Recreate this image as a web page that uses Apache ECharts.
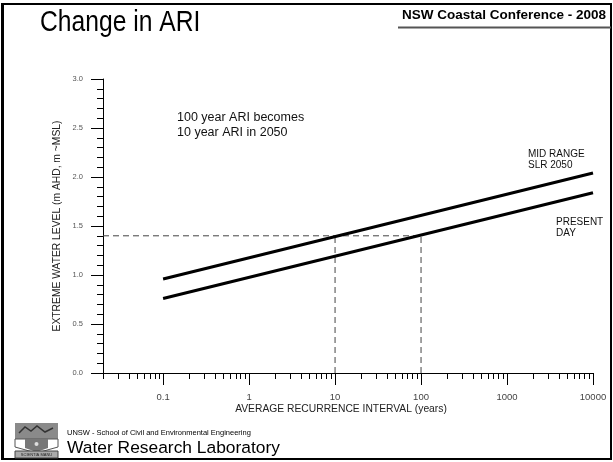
<!DOCTYPE html>
<html>
<head>
<meta charset="utf-8">
<script src="https://cdn.jsdelivr.net/npm/echarts@6/dist/echarts.min.js"></script>
<style>
  html, body { margin: 0; padding: 0; background: #fff; }
  #chart { width: 613px; height: 462px; }
</style>
</head>
<body>
<div id="chart"></div>
<script>
// Average recurrence interval (years) at the line end points
const ariPoints = [0.1, 10000];
// Extreme water level (m AHD) for each scenario at those intervals
const presentDay = [0.76, 1.84];
const midRange2050 = [0.96, 2.04];
// Reference level and the two intervals it links
const refLevel = 1.4;
const refAri = [10, 100];
// Axis ticks
const xMajorTicks = [0.1, 1, 10, 100, 1000, 10000];
const xTickLabels = ['0.1', '1', '10', '100', '1000', '10000'];
const xMinorTicks = [];
for (let d = 0.01; d < 10000; d *= 10) {
  for (let k = 2; k <= 9; k++) {
    const v = +(k * d).toPrecision(3);
    if (v >= 0.02 && xMajorTicks.indexOf(v) < 0) xMinorTicks.push(v);
  }
}

const font = '"Liberation Sans", Arial, Helvetica, sans-serif';

const chart = echarts.init(document.getElementById('chart'), null, { renderer: 'canvas' });

const pairs = (xs, ys) => xs.map((x, i) => [x, ys[i]]);

const option = {
  backgroundColor: '#ffffff',
  animation: false,
  grid: { left: 103, right: 20, top: 79, bottom: 89, containLabel: false },
  xAxis: [
    {
      type: 'log',
      min: 0.02,
      max: 10000,
      axisLine: { show: true, lineStyle: { color: '#000', width: 1 } },
      axisTick: { show: true, length: 12, customValues: xMajorTicks, lineStyle: { color: '#000', width: 1 } },
      axisLabel: {
        show: true,
        customValues: xMajorTicks,
        margin: 19,
        color: '#444',
        fontSize: 9.5,
        fontFamily: font,
        formatter: (v) => {
          const i = xMajorTicks.findIndex(t => Math.abs(t - v) / t < 1e-6);
          return i >= 0 ? xTickLabels[i] : '';
        }
      },
      splitLine: { show: false },
      minorTick: { show: false }
    },
    {
      type: 'log',
      min: 0.02,
      max: 10000,
      position: 'bottom',
      axisLine: { show: false },
      axisTick: { show: true, length: 6, customValues: xMinorTicks, lineStyle: { color: '#000', width: 1 } },
      axisLabel: { show: false },
      splitLine: { show: false }
    }
  ],
  yAxis: {
    type: 'value',
    min: 0,
    max: 3,
    interval: 0.5,
    axisLine: { show: true, lineStyle: { color: '#000', width: 1 } },
    axisTick: { show: true, length: 12, lineStyle: { color: '#000', width: 1 } },
    minorTick: { show: true, splitNumber: 5, length: 6, lineStyle: { color: '#000', width: 1 } },
    axisLabel: {
      margin: 20,
      color: '#555',
      fontSize: 7.5,
      fontFamily: font,
      formatter: (v) => v.toFixed(1)
    },
    splitLine: { show: false }
  },
  series: [
    {
      name: 'MID RANGE SLR 2050',
      type: 'line',
      data: pairs(ariPoints, midRange2050),
      symbol: 'none',
      lineStyle: { color: '#000', width: 3 },
      z: 3
    },
    {
      name: 'PRESENT DAY',
      type: 'line',
      data: pairs(ariPoints, presentDay),
      symbol: 'none',
      lineStyle: { color: '#000', width: 3 },
      z: 3
    },
    {
      name: 'Reference level',
      type: 'line',
      data: [[0.02, refLevel], [refAri[1], refLevel], '-',
             [refAri[0], 0], [refAri[0], refLevel], '-',
             [refAri[1], 0], [refAri[1], refLevel]],
      symbol: 'none',
      connectNulls: false,
      lineStyle: { color: '#444', width: 1, type: [6, 4] },
      z: 2
    }
  ],
  graphic: [
    // slide frame
    { type: 'rect', shape: { x: 2, y: 4, width: 609, height: 455 }, style: { fill: 'none', stroke: '#000', lineWidth: 2 }, silent: true },
    { type: 'line', shape: { x1: 2.5, y1: 4, x2: 2.5, y2: 459 }, style: { stroke: '#000', lineWidth: 3 }, silent: true },
    // header
    { type: 'text', x: 40, y: 23, scaleX: 0.85, style: { text: 'Change in ARI', font: '29px ' + font, fill: '#000', textVerticalAlign: 'middle' } },
    { type: 'text', x: 606, y: 15, style: { text: 'NSW Coastal Conference - 2008', font: 'bold 13.5px ' + font, fill: '#000', textAlign: 'right', textVerticalAlign: 'middle' } },
    { type: 'line', shape: { x1: 398, y1: 27.5, x2: 611, y2: 27.5 }, style: { stroke: '#555', lineWidth: 2 }, silent: true },
    // annotations
    { type: 'text', x: 177, y: 118, style: { text: '100 year ARI becomes', font: '12.5px ' + font, fill: '#111', textVerticalAlign: 'middle' } },
    { type: 'text', x: 177, y: 132.5, style: { text: '10 year ARI in 2050', font: '12.5px ' + font, fill: '#111', textVerticalAlign: 'middle' } },
    { type: 'text', x: 528, y: 154, style: { text: 'MID RANGE', font: '10px ' + font, fill: '#111', textVerticalAlign: 'middle' } },
    { type: 'text', x: 528, y: 165, style: { text: 'SLR 2050', font: '10px ' + font, fill: '#111', textVerticalAlign: 'middle' } },
    { type: 'text', x: 556, y: 222, style: { text: 'PRESENT', font: '10px ' + font, fill: '#111', textVerticalAlign: 'middle' } },
    { type: 'text', x: 556, y: 233, style: { text: 'DAY', font: '10px ' + font, fill: '#111', textVerticalAlign: 'middle' } },
    // axis titles
    { type: 'text', x: 341, y: 409, style: { text: 'AVERAGE RECURRENCE INTERVAL (years)', font: '10.3px ' + font, fill: '#222', textAlign: 'center', textVerticalAlign: 'middle' } },
    { type: 'text', x: 57, y: 226, rotation: Math.PI / 2, style: { text: 'EXTREME WATER LEVEL (m AHD, m ~MSL)', font: '10.3px ' + font, fill: '#222', textAlign: 'center', textVerticalAlign: 'middle' } },
    // footer crest
    { type: 'group', x: 15, y: 423, children: [
      { type: 'rect', shape: { x: 0, y: 0, width: 43, height: 16 }, style: { fill: '#8a8a8a' } },
      { type: 'polyline', shape: { points: [[4, 10], [10, 4], [16, 8], [22, 3], [30, 9], [38, 5]] }, style: { stroke: '#333', lineWidth: 1.5, fill: 'none' } },
      { type: 'polygon', shape: { points: [[0, 16], [43, 16], [43, 24], [21.5, 30], [0, 24]] }, style: { fill: '#ffffff', stroke: '#555', lineWidth: 1 } },
      { type: 'polygon', shape: { points: [[10, 16], [33, 16], [33, 25], [21.5, 29], [10, 25]] }, style: { fill: '#777' } },
      { type: 'circle', shape: { cx: 21.5, cy: 21, r: 2 }, style: { fill: '#ddd' } },
      { type: 'rect', shape: { x: 0, y: 28, width: 43, height: 7 }, style: { fill: '#aaa', stroke: '#444', lineWidth: 1 } },
      { type: 'text', x: 21.5, y: 31.5, style: { text: 'SCIENTIA MANU', font: '4px ' + font, fill: '#222', textAlign: 'center', textVerticalAlign: 'middle' } }
    ] },
    // footer text
    { type: 'text', x: 67, y: 433, style: { text: 'UNSW - School of Civil and Environmental Engineering', font: '7.5px ' + font, fill: '#000', textVerticalAlign: 'middle' } },
    { type: 'text', x: 67, y: 448, style: { text: 'Water Research Laboratory', font: '17.4px ' + font, fill: '#000', textVerticalAlign: 'middle' } }
  ]
};

chart.setOption(option);
</script>
</body>
</html>
